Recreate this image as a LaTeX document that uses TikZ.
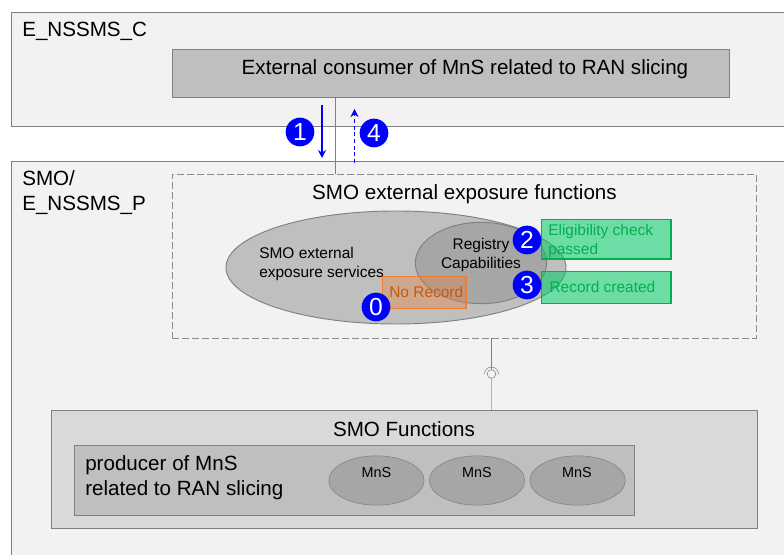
\documentclass[tikz,border=0pt]{standalone}
\usepackage{fontspec}
\setmainfont{Liberation Sans}
\usetikzlibrary{arrows.meta, positioning, shapes.geometric}
\definecolor{paneback}{HTML}{F2F2F2}
\definecolor{edgegray}{HTML}{808080}
\definecolor{stepblue}{HTML}{0000FF}
\definecolor{okgreen}{HTML}{00B050}
\definecolor{okfill}{HTML}{00CC66}
\definecolor{failorange}{HTML}{ED7D31}
\definecolor{failtext}{HTML}{C55A11}
\tikzset{
  pane/.style={draw=edgegray, fill=paneback, rectangle, anchor=north west, inner sep=0pt},
  graybox/.style={draw=edgegray, line width=0.7pt, inner sep=0pt},
  okbox/.style={draw=okgreen, line width=0.9pt, fill=okfill, fill opacity=0.55, text opacity=1, text=okgreen,
    rectangle, anchor=north west, inner sep=0pt, minimum width=97pt},
  stepmark/.style={circle, fill=stepblue, text=white, inner sep=0pt, minimum size=21.5pt, font=\fontsize{18.5}{18.5}\selectfont},
  mns/.style={ellipse, draw=edgegray, fill=black!35, inner sep=0pt, minimum width=71.5pt, minimum height=37pt},
  label/.style={inner sep=0pt, align=left, font=\fontsize{15.45}{19}\selectfont},
  small/.style={inner sep=0pt, font=\fontsize{11.6}{14.25}\selectfont},
  mnstext/.style={inner sep=0pt, font=\fontsize{10.8}{13}\selectfont}
}
\begin{document}
\begin{tikzpicture}[x=0.75pt, y=-0.75pt]
  \useasboundingbox (0,0) rectangle (784,555);
  \fill[white] (0,0) rectangle (784,555);

  % panes
  \node (cons) [pane, minimum width=600pt, minimum height=85.5pt] at (11,12) {};
  \node (prod) [pane, minimum width=600pt, minimum height=320pt] at (11,161) {};
  \node (conslabel) [label, anchor=west] at (22,31) {E\_NSSMS\_C};
  \node (prodlabel) [label, anchor=north west] at (22,170) {SMO/\\E\_NSSMS\_P};

  \node (ranbox) [graybox, fill=black!25, minimum width=417.75pt, minimum height=36pt] at (450.5,73) {};
  \node (rantext) [label] at (465,69.5) {External consumer of MnS related to RAN slicing};

  \node (expo) [draw=black!45, dash pattern=on 5pt off 2.5pt, line width=0.7pt, rectangle, inner sep=0pt, minimum width=438pt, minimum height=123pt] at (464,256) {};
  \node (expotext) [label] at (464.5,194) {SMO external exposure functions};

  % ellipses
  \node (services) [ellipse, graybox, fill=black!25, minimum width=255pt, minimum height=84.75pt] at (396,267.5) {};
  \node (registry) [ellipse, graybox, fill=black!35, minimum width=98.5pt, minimum height=61pt] at (481,263) {};
  \node (servicestext) [small, align=left, anchor=west] at (259,264) {SMO external\\exposure services};
  \node (registrytext) [small, align=center] at (481,255) {Registry\\Capabilities};

  % results
  \node (norecord) [draw=failorange, line width=0.9pt, fill=failorange, fill opacity=0.35, text opacity=1, text=failtext, rectangle,
    anchor=north west, inner sep=0pt, minimum width=62.5pt, minimum height=24pt, small] at (382,276) {\hspace{3pt}\raisebox{0.7pt}{No Record}};
  \node (eligible) [okbox, minimum height=29.5pt] at (541,219) {};
  \node (eligibletext) [small, text=okgreen, align=left, anchor=west] at (548,241) {Eligibility check\\passed};
  \node (created) [okbox, minimum height=24pt, small, text=okgreen] at (541,271) {\hspace{-5.8pt}\raisebox{1.5pt}{Record created}};

  % steps
  \node (zero) [stepmark] at (376,307) {0};
  \node (one) [stepmark] at (300,132) {1};
  \node (two) [stepmark] at (527,240) {2};
  \node (three) [stepmark] at (527,285) {3};
  \node (four) [stepmark] at (374,133) {4};

  % lower block
  \node (funcs) [graybox, fill=black!15, minimum width=529.5pt, minimum height=89pt] at (404,469.5) {};
  \node (funcstext) [label] at (404,429) {SMO Functions};
  \node (producer) [graybox, fill=black!25, minimum width=420pt, minimum height=52.5pt] at (354.5,480) {};
  \node (producertext) [label, anchor=west] at (85,478) {producer of MnS\\related to RAN slicing};
  \node (mnsa) [mns] at (376.5,480.5) {};
  \node (mnsb) [mns, right = 3.5pt of mnsa] {};
  \node (mnsc) [mns, right = 3.5pt of mnsb] {};
  \node (mnsatext) [mnstext] at (376.5,473) {MnS};
  \node (mnsbtext) [mnstext] at (477,473) {MnS};
  \node (mnsctext) [mnstext] at (577,473) {MnS};

  % interface
  \coordinate (sock) at (491.5,374);
  \coordinate (linkup) at (335,97);
  \coordinate (linkdown) at (335,174);
  \coordinate (reqstart) at (322,105);
  \coordinate (reqend) at (322,158);
  \coordinate (respstart) at (354.5,163);
  \coordinate (respend) at (354.5,109);
  \coordinate (expolink) at (491.5,338);
  \coordinate (funclink) at (491.5,410);

  \draw[edgegray] (linkup) -- (linkdown);
  \draw[edgegray] (expolink) -- (sock);
  \draw[black!30, line width=1pt] (sock) -- (funclink);
  \node (ball) [circle, draw=edgegray, fill=paneback, inner sep=0pt, minimum size=6.5pt] at (sock) {};
  \draw[edgegray] (ball.center) ++(-7,0) arc[start angle=180, end angle=360, radius=7];

  \path [-{Stealth[length=6pt,width=6pt]}, stepblue]
      (reqstart) edge [line width=1pt] (reqend)
      (respstart) edge [densely dashed] (respend)
      ;
\end{tikzpicture}
\end{document}
